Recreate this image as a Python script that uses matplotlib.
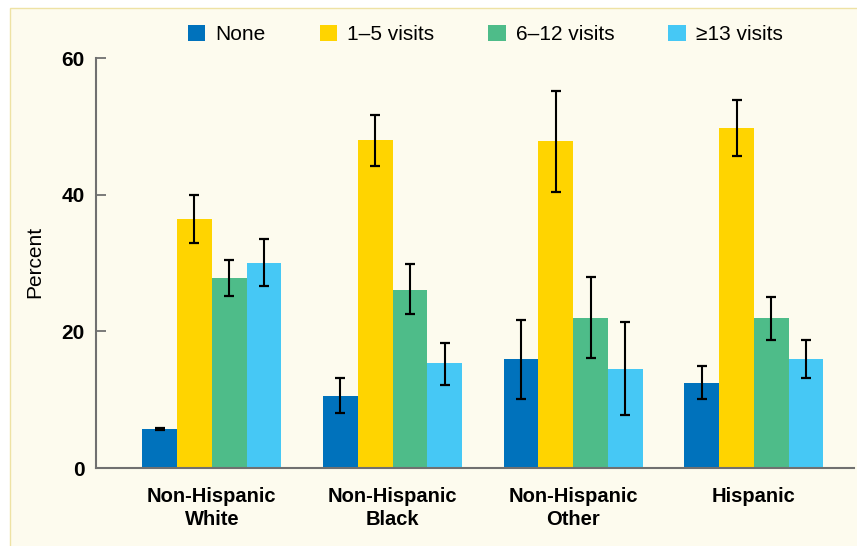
import matplotlib
matplotlib.use("Agg")
import numpy as np
from matplotlib import pyplot as plt
from matplotlib.patches import Rectangle, Patch

plt.rcParams["font.family"] = ["Liberation Sans", "DejaVu Sans"]

# Percent of women by number of prenatal visits, by race/ethnicity
groups = ["Non-Hispanic\nWhite", "Non-Hispanic\nBlack", "Non-Hispanic\nOther", "Hispanic"]
series_names = ["None", "1\u20135 visits", "6\u201312 visits", "\u226513 visits"]
series_colors = ["#0072BC", "#FFD400", "#4EBC89", "#46C8F5"]

none_pct = [5.7, 10.6, 15.9, 12.5]
none_lo = [5.6, 8.1, 10.1, 10.1]
none_hi = [5.9, 13.1, 21.6, 15.0]

visits_1_5 = [36.4, 48.0, 47.8, 49.7]
visits_1_5_lo = [33.0, 44.2, 40.4, 45.7]
visits_1_5_hi = [40.0, 51.7, 55.2, 53.8]

visits_6_12 = [27.8, 26.1, 22.0, 22.0]
visits_6_12_lo = [25.2, 22.6, 16.1, 18.8]
visits_6_12_hi = [30.5, 29.9, 27.9, 25.0]

visits_13 = [30.0, 15.3, 14.5, 16.0]
visits_13_lo = [26.7, 12.2, 7.8, 13.2]
visits_13_hi = [33.5, 18.3, 21.3, 18.8]

yticks = [0, 20, 40, 60]

series = [
    (none_pct, none_lo, none_hi),
    (visits_1_5, visits_1_5_lo, visits_1_5_hi),
    (visits_6_12, visits_6_12_lo, visits_6_12_hi),
    (visits_13, visits_13_lo, visits_13_hi),
]

fig = plt.figure(figsize=(8.57, 5.46), dpi=100)
fig.patch.set_facecolor("white")

# cream panel behind the chart
fig.patches.append(Rectangle((10 / 857, -0.01), 1.0, 1 - 8 / 546 + 0.01,
                             transform=fig.transFigure, facecolor="#FDFBEE",
                             edgecolor="#EEE2A4", linewidth=1.0, zorder=-10))

ax = fig.add_axes([96 / 857, 1 - 468 / 546, (854 - 96) / 857, (468 - 58) / 546])
ax.set_facecolor("none")

x = np.arange(len(groups))
width = 0.1925
offsets = (np.arange(4) - 1.5) * width

for i, (vals, lo, hi) in enumerate(series):
    vals = np.array(vals)
    yerr = np.vstack([vals - np.array(lo), np.array(hi) - vals])
    ax.bar(x + offsets[i], vals, width=width, color=series_colors[i],
           label=series_names[i], zorder=2)
    ax.errorbar(x + offsets[i], vals, yerr=yerr, fmt="none", ecolor="black",
                elinewidth=1.5, capsize=3.7, capthick=1.6, zorder=3)

ax.set_xlim(-0.641, 3.554)
ax.set_ylim(0, 60)
ax.set_yticks(yticks)
ax.set_yticklabels([str(t) for t in yticks], fontsize=15, fontweight="bold")
ax.set_xticks(x)
ax.set_xticklabels(groups, fontsize=14.5, fontweight="bold", linespacing=1.25)

ax.tick_params(axis="y", direction="in", length=7.2, width=1.3, color="#707070", pad=8)
ax.tick_params(axis="x", length=0, pad=14)

for side in ["top", "right"]:
    ax.spines[side].set_visible(False)
for side in ["left", "bottom"]:
    ax.spines[side].set_color("#707070")
    ax.spines[side].set_linewidth(1.5)

fig.text(35 / 857, 1 - 262 / 546, "Percent", rotation=90, ha="center", va="center",
         fontsize=15, family=["Liberation Sans Narrow", "Liberation Sans"])

handles = [Patch(facecolor=c, edgecolor="none") for c in series_colors]
fig.legend(handles, series_names, loc="center left", ncol=4, frameon=False,
           bbox_to_anchor=(188 / 857, 1 - 34.4 / 546), borderpad=0, borderaxespad=0,
           fontsize=15, handlelength=0.83, handleheight=0.8, handletextpad=0.48,
           columnspacing=2.6)

fig.savefig("out.png", dpi=100)
